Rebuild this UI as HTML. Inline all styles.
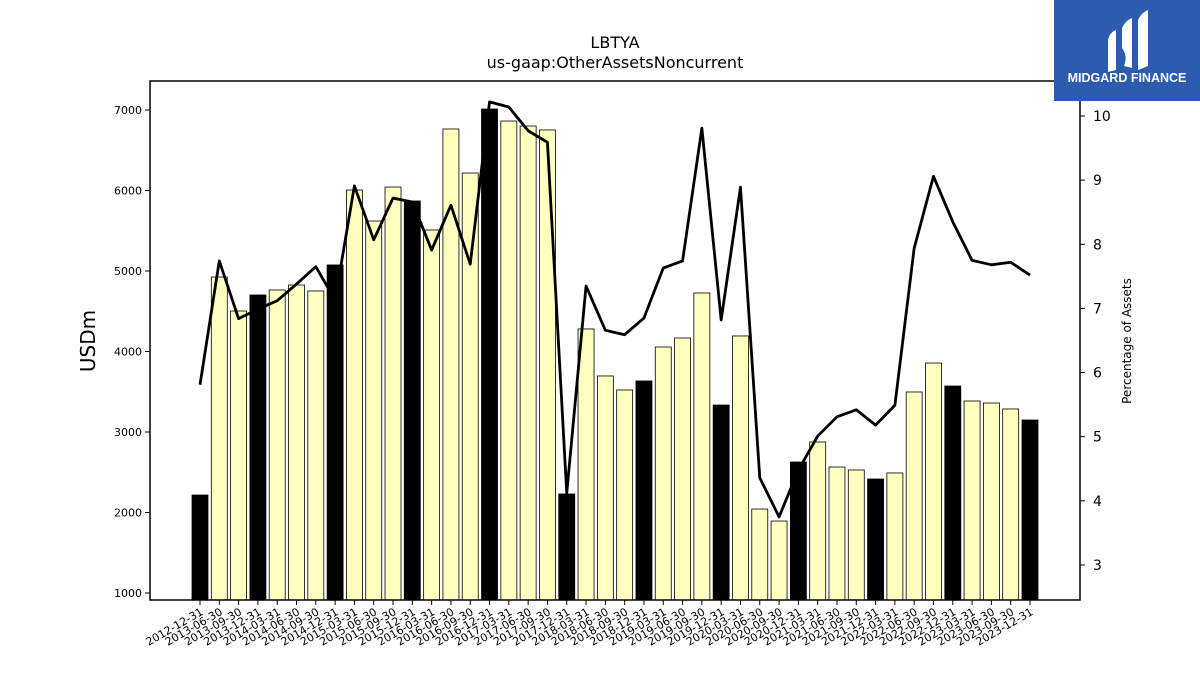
<!DOCTYPE html>
<html><head><meta charset="utf-8"><style>
body{margin:0;background:#fff;font-family:"Liberation Sans","DejaVu Sans",sans-serif;}
svg text{font-family:"DejaVu Sans","Liberation Sans",sans-serif;}
</style></head><body>
<svg id="c" width="1200" height="675" xmlns="http://www.w3.org/2000/svg">
<text x="615" y="48" font-size="16" text-anchor="middle">LBTYA</text>
<text x="615" y="68" font-size="16" text-anchor="middle">us-gaap:OtherAssetsNoncurrent</text>
<g id="bars"></g>
<g id="line"></g>
<rect x="150" y="81" width="930" height="519" fill="none" stroke="#000" stroke-width="1.5"/>
<g id="axes"></g>
<text transform="translate(95,341) rotate(-90)" font-size="20" text-anchor="middle">USDm</text>
<text transform="translate(1131,341) rotate(-90)" font-size="12" text-anchor="middle">Percentage of Assets</text>
<g>
<rect x="1054" y="0" width="146" height="101" fill="#2c5bb0"/>
<path d="M1108 40 Q1110 32 1116 30 L1116 70 L1108 72 Z" fill="#fff"/>
<path d="M1122 28 Q1126 20 1132 18 L1132 68 L1124 66 Q1128 56 1122 48 Z" fill="#fff"/>
<path d="M1138 20 Q1142 12 1148 10 L1148 66 L1138 70 Z" fill="#fff"/>
<text x="1127" y="82" font-size="12.5" font-weight="bold" fill="#fff" text-anchor="middle" style="font-family:'Liberation Sans',sans-serif">MIDGARD FINANCE</text>
</g>
</svg>
<script>
const categories=["2012-12-31","2013-06-30","2013-09-30","2013-12-31","2014-03-31","2014-06-30","2014-09-30","2014-12-31","2015-03-31","2015-06-30","2015-09-30","2015-12-31","2016-03-31","2016-06-30","2016-09-30","2016-12-31","2017-03-31","2017-06-30","2017-09-30","2017-12-31","2018-03-31","2018-06-30","2018-09-30","2018-12-31","2019-03-31","2019-06-30","2019-09-30","2019-12-31","2020-03-31","2020-06-30","2020-09-30","2020-12-31","2021-03-31","2021-06-30","2021-09-30","2021-12-31","2022-03-31","2022-06-30","2022-09-30","2022-12-31","2023-03-31","2023-06-30","2023-09-30","2023-12-31"];
const barValues=[2217,4925,4503,4702,4764,4826,4752,5075,6006,5621,6043,5870,5509,6764,6217,7012,6863,6801,6752,2230,4280,3696,3522,3634,4056,4168,4727,3335,4193,2043,1894,2627,2876,2565,2528,2416,2491,3497,3857,3571,3385,3360,3286,3149];
const pctValues=[5.81,7.74,6.84,6.99,7.12,7.38,7.65,7.13,8.91,8.07,8.72,8.66,7.91,8.61,7.69,10.22,10.14,9.77,9.59,4.12,7.35,6.66,6.59,6.85,7.63,7.74,9.81,6.82,8.89,4.36,3.75,4.48,5.01,5.31,5.42,5.18,5.49,7.94,9.06,8.35,7.75,7.68,7.72,7.52];
const leftTicks=[1000,2000,3000,4000,5000,6000,7000];
const rightTicks=[3,4,5,6,7,8,9,10];
const NS="http://www.w3.org/2000/svg";
const xPos=i=>200+i*(1030-200)/43;
const yL=v=>593-(v-1000)*0.0805;
const yR=v=>116+(10-v)*64.14;
const base=600;
function mk(t,a,p){const e=document.createElementNS(NS,t);for(const k in a)e.setAttribute(k,a[k]);p.appendChild(e);return e;}
const gb=document.getElementById('bars');
barValues.forEach((v,i)=>{
 const q4=categories[i].endsWith('12-31');
 const r=mk('rect',{x:xPos(i)-8,y:yL(v),width:16,height:base-yL(v),fill:q4?'#000':'#ffffc0',stroke:'#000','stroke-width':0.8},gb);
 
 
});
const pts=pctValues.map((v,i)=>xPos(i)+','+yR(v)).join(' ');
const pl=mk('polyline',{points:pts,fill:'none',stroke:'#000','stroke-width':2.8,'stroke-linejoin':'round'},document.getElementById('line'));


const ga=document.getElementById('axes');
leftTicks.forEach(t=>{
 mk('line',{x1:145,x2:150,y1:yL(t),y2:yL(t),stroke:'#000'},ga);
 const tx=mk('text',{x:142,y:yL(t)+4,'font-size':11,'text-anchor':'end'},ga);
 tx.textContent=t;
 
 
});
rightTicks.forEach(t=>{
 mk('line',{x1:1080,x2:1085,y1:yR(t),y2:yR(t),stroke:'#000'},ga);
 const tx=mk('text',{x:1093,y:yR(t)+5,'font-size':14},ga);
 tx.textContent=t;
 
 
});
categories.forEach((c,i)=>{
 const x=xPos(i);
 mk('line',{x1:x,x2:x,y1:600,y2:605,stroke:'#000'},ga);
 const tx=mk('text',{x:0,y:0,'font-size':11,'text-anchor':'end',transform:`translate(${x+4},${614}) rotate(-30)`},ga);
 tx.textContent=c;
 
 
});
</script>
</body></html>
